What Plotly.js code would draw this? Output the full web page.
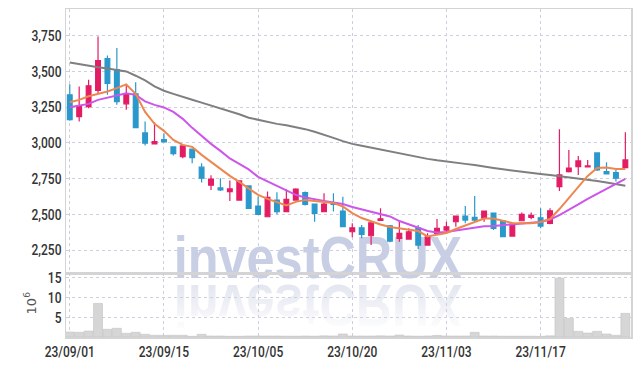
<!DOCTYPE html>
<html>
<head>
<meta charset="utf-8">
<script src="https://cdn.plot.ly/plotly-3.0.1.min.js"></script>
<style>
  html, body { margin: 0; padding: 0; background: #ffffff; }
  #wrap { position: relative; width: 639px; height: 366px; overflow: hidden; background: #ffffff; }
  #wm { position: absolute; left: 0; top: 0; width: 639px; height: 366px; z-index: 0; pointer-events: none; }
  .wmtext { position: absolute; left: 0; width: 636px; text-align: center; font-family: 'Liberation Sans', sans-serif; font-weight: bold; font-size: 60px; line-height: 46px; height: 46px; white-space: nowrap; }
  #wm1 { top: 235px; color: #c8cfe4; transform: scaleX(0.84); }
  #wm2 { top: 282px; color: #e2e5ef; transform: scaleX(0.84) scaleY(-1);
         -webkit-mask-image: linear-gradient(to top, rgba(0,0,0,1) 0%, rgba(0,0,0,0.1) 100%);
         mask-image: linear-gradient(to top, rgba(0,0,0,1) 0%, rgba(0,0,0,0.1) 100%); }
  #chart { position: absolute; left: 0; top: 0; width: 639px; height: 366px; z-index: 1; }
</style>
</head>
<body>
<div id="wrap">
  <div id="wm"><div id="wm1" class="wmtext">investCRUX</div><div id="wm2" class="wmtext">investCRUX</div></div>
  <div id="chart"></div>
</div>
<script>
const dates = ['23/09/01','23/09/04','23/09/05','23/09/06','23/09/07','23/09/08','23/09/11','23/09/12','23/09/13','23/09/14',
  '23/09/15','23/09/18','23/09/19','23/09/20','23/09/21','23/09/22','23/09/25','23/09/26','23/09/27','23/10/04',
  '23/10/05','23/10/06','23/10/10','23/10/11','23/10/12','23/10/13','23/10/16','23/10/17','23/10/18','23/10/19',
  '23/10/20','23/10/23','23/10/24','23/10/25','23/10/26','23/10/27','23/10/30','23/10/31','23/11/01','23/11/02',
  '23/11/03','23/11/06','23/11/07','23/11/08','23/11/09','23/11/10','23/11/13','23/11/14','23/11/15','23/11/16',
  '23/11/17','23/11/20','23/11/21','23/11/22','23/11/23','23/11/24','23/11/27','23/11/28','23/11/29','23/11/30'];

const openP  = [3336,3184,3254,3367,3589,3512,3273,3343,3070,2993, 3023,2972,2904,2956,2830,2704,2685,2659,2600,2699,
  2558,2483,2600,2519,2600,2652,2572,2519,2582,2523, 2378,2406,2350,2458,2420,2332,2327,2406,2285,2367,
  2390,2448,2488,2479,2474,2509,2455,2348,2455,2479, 2476,2437,2694,2799,2834,2832,2930,2799,2792,2827];
const highP  = [3411,3395,3442,3745,3612,3664,3407,3425,3149,3145, 3068,2975,2982,2958,2858,2774,2753,2736,2737,2702,
  2624,2659,2654,2676,2683,2659,2575,2647,2647,2623, 2437,2425,2445,2542,2425,2448,2402,2425,2367,2467,
  2448,2490,2558,2629,2527,2512,2458,2437,2512,2512, 2542,2542,3096,2951,2909,2881,2932,2865,2811,3075];
const lowP   = [3155,3149,3243,3343,3336,3266,3231,3105,2981,2990, 3005,2911,2893,2858,2722,2671,2664,2594,2597,2540,
  2498,2480,2500,2515,2597,2561,2448,2515,2519,2410, 2339,2332,2285,2455,2304,2308,2325,2257,2283,2355,
  2367,2413,2437,2441,2448,2390,2340,2343,2452,2465, 2402,2430,2664,2792,2776,2830,2804,2780,2729,2825];
const closeP = [3163,3259,3400,3575,3416,3289,3343,3107,2998,3009, 3007,2925,2979,2897,2753,2746,2671,2678,2734,2542,
  2500,2619,2519,2605,2676,2570,2507,2572,2570,2413, 2406,2360,2441,2469,2313,2367,2378,2285,2343,2402,
  2413,2488,2460,2460,2523,2402,2343,2432,2500,2493, 2418,2525,2776,2823,2874,2839,2811,2783,2753,2881];

const ma5  = [3285,3301,3326,3343,3360,3383,3409,3343,3217,3133, 3084,3021,2986,2972,2916,2867,2818,2769,2727,2681,
  2636,2608,2587,2562,2587,2601,2594,2587,2580,2555, 2509,2474,2450,2429,2411,2401,2394,2383,2345,2355,
  2369,2397,2422,2450,2471,2471,2453,2439,2437,2437, 2446,2467,2537,2615,2699,2769,2825,2827,2818,2818];
const ma10 = [3250,3259,3273,3301,3315,3329,3348,3336,3290,3266, 3248,3217,3168,3105,3049,2993,2944,2891,2853,2814,
  2762,2730,2699,2664,2636,2618,2604,2594,2583,2572, 2551,2534,2516,2502,2485,2453,2429,2404,2383,2373,
  2376,2387,2397,2411,2416,2418,2425,2430,2436,2441, 2446,2464,2495,2530,2569,2608,2643,2678,2709,2748];
const ma60 = [3563,3551,3538,3530,3521,3512,3500,3470,3437,3396, 3365,3343,3320,3302,3282,3262,3243,3222,3200,3176,
  3160,3146,3133,3124,3111,3096,3078,3058,3035,3012, 2993,2980,2967,2954,2942,2928,2911,2899,2888,2878,
  2868,2860,2853,2845,2833,2824,2815,2806,2796,2788, 2782,2775,2767,2760,2751,2742,2733,2722,2711,2700];

const volume = [1.26,1.18,1.5,8.5,1.94,2.2,0.93,1.18,0.68,0.42, 0.42,0.42,0.42,0.17,0.68,0.25,0.25,0.17,0.17,0.25,
  0.25,0.25,0.25,0.2,0.2,0.25,0.2,0.3,0.25,0.76, 0.25,0.25,0.25,0.3,0.25,0.5,0.25,0.2,0.25,0.4,
  0.25,0.25,0.25,1.18,0.25,0.25,0.2,0.2,0.2,0.2, 0.17,0.3,14.9,4.7,1.43,1.0,1.43,0.76,0.42,5.98];

const xTickLabels = ['23/09/01','23/09/15','23/10/05','23/10/20','23/11/03','23/11/17'];
const priceTicks = [2250,2500,2750,3000,3250,3500,3750];
const volTicks = [5,10,15];

const upColor = '#e31c64';
const downColor = '#2b98cc';
const tickFont = {family: "Roboto, 'Liberation Sans', sans-serif", size: 15, weight: 500, color: '#333333'};
const gridColor = '#cdcee0';

const traces = [
  {type:'bar', x: dates, y: volume, xaxis:'x', yaxis:'y2',
   marker:{color:'#d6d6d6', line:{color:'#c2c2c2', width:0.6}}, width: 0.95, hoverinfo:'skip', showlegend:false},
  {type:'scatter', mode:'lines', x: dates, y: ma60, line:{color:'#7f7f7f', width:2}, showlegend:false, hoverinfo:'skip'},
  {type:'scatter', mode:'lines', x: dates, y: ma10, line:{color:'#cc55ea', width:2}, showlegend:false, hoverinfo:'skip'},
  {type:'scatter', mode:'lines', x: dates, y: ma5,  line:{color:'#ee874f', width:2}, showlegend:false, hoverinfo:'skip'},
  {type:'candlestick', x: dates, open: openP, high: highP, low: lowP, close: closeP,
   increasing:{line:{color:upColor, width:1.2}, fillcolor:upColor},
   decreasing:{line:{color:downColor, width:1.2}, fillcolor:downColor},
   whiskerwidth:0, showlegend:false, hoverinfo:'skip'}
];

const layout = {
  width: 639, height: 366,
  margin: {l: 66, r: 8, t: 9, b: 29},
  paper_bgcolor: 'rgba(0,0,0,0)', plot_bgcolor: 'rgba(0,0,0,0)',
  showlegend: false,
  boxgap: 0.28,
  bargap: 0,
  xaxis: {
    type:'category', range:[-0.4, 59.6], anchor:'y2',
    tickvals: xTickLabels, ticktext: xTickLabels,
    showgrid:true, gridcolor:gridColor, griddash:'dot', gridwidth:1,
    showline:true, linecolor:'#d4d4d4', linewidth:1.5, mirror:'all',
    ticks:'', tickfont: tickFont, rangeslider:{visible:false}, zeroline:false, fixedrange:true
  },
  yaxis: {
    domain:[0.195, 1], range:[2089, 3937],
    tickvals: priceTicks, tickformat:',d',
    showgrid:true, gridcolor:gridColor, griddash:'dot', gridwidth:1,
    showline:true, linecolor:'#d4d4d4', linewidth:1.5, mirror:true,
    ticks:'', tickfont: tickFont, zeroline:false, fixedrange:true
  },
  yaxis2: {
    domain:[0, 0.195], range:[0, 16.2],
    tickvals: volTicks, ticktext: volTicks.map(String),
    showgrid:true, gridcolor:gridColor, griddash:'dot', gridwidth:1,
    showline:true, linecolor:'#d4d4d4', linewidth:1.5, mirror:true,
    ticks:'', tickfont: tickFont, zeroline:false, fixedrange:true
  },
  annotations: [
    {xref:'paper', yref:'paper', x:-0.064, y:0.105, text:'10<sup>6</sup>', showarrow:false, textangle:-90,
     xanchor:'center', yanchor:'middle', font:{family:"'DejaVu Sans', sans-serif", size:13, color:'#555555'}}
  ]
};

Plotly.newPlot('chart', traces, layout, {staticPlot:true, displayModeBar:false}).then(function (gd) {
  // condense tick label glyphs to mimic the narrow face of the original
  gd.querySelectorAll('.xtick text, .ytick text, .y2tick text').forEach(function (t) {
    const len = t.getComputedTextLength();
    if (len > 0) {
      t.setAttribute('textLength', (len * 0.8).toFixed(1));
      t.setAttribute('lengthAdjust', 'spacingAndGlyphs');
    }
  });
});
</script>
</body>
</html>
